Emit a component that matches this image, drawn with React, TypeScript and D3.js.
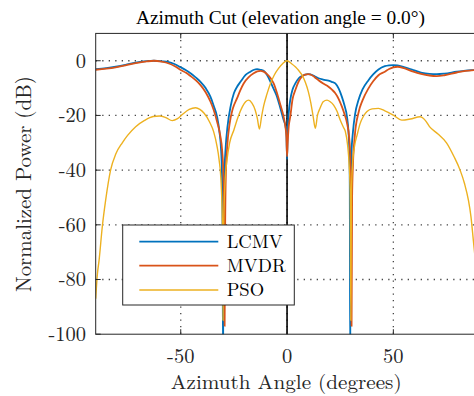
import React from "react";
import * as d3 from "d3";

// Beam pattern samples: [azimuth angle (deg), normalized power (dB)]
const lcmv: [number, number][] = [
  [-90, -3.1], [-85, -2.7], [-80.6, -2.2], [-76, -1.5], [-71.2, -0.7], [-66, -0.15], [-62.6, 0],
  [-59, -0.2], [-55.6, -0.5], [-53, -1.2], [-50, -2.4], [-47.5, -3.5], [-45.4, -4.6], [-43, -6.1],
  [-40.7, -7.7], [-38.3, -10], [-36, -13.2], [-34.5, -16.5], [-32.9, -20.5], [-31.8, -26], [-31, -33],
  [-30.6, -42], [-30.35, -60], [-30.1, -110], [-29.85, -60], [-29.5, -42], [-28.9, -32], [-28, -24],
  [-26.5, -16.5], [-25, -11.9], [-23.5, -9.5], [-21.9, -7.7], [-19.5, -5.2], [-17.2, -4], [-15.5, -3.3],
  [-14.1, -3.1], [-12.5, -3.3], [-11, -3.7], [-9.4, -5.2], [-7.8, -7.7], [-6.3, -10.3], [-4.7, -13.2],
  [-3.1, -17.5], [-1.6, -21.7], [-0.7, -24], [-0.3, -27], [0, -36], [0.3, -26], [0.8, -19], [1.5, -14.4],
  [2.6, -10.5], [3.9, -8.3], [5.5, -6.4], [7, -5.6], [8.5, -5.1], [9.6, -4.9], [11, -5.0], [12.8, -5.6],
  [14.8, -6.4], [17, -6.9], [19.5, -7.3], [21, -7.7], [22.7, -8.3], [24.3, -10.2], [25.8, -13.2],
  [27, -16.3], [28.2, -20.5], [28.9, -26], [29.3, -33], [29.5, -45], [29.7, -110], [29.95, -45],
  [30.3, -34], [31, -26], [32, -19.5], [33.6, -14.4], [35.5, -10.5], [38.3, -7.1], [40.5, -5], [43, -3.2],
  [46, -2], [48, -1.7], [50, -1.6], [52, -1.7], [55, -2.3], [59.4, -3.4], [63, -4.3], [67, -4.8],
  [70.4, -4.9], [74, -4.7], [79.8, -4], [84, -3.6], [88, -3.4], [90, -3.3],
];

const mvdr: [number, number][] = [
  [-90, -3.3], [-85, -2.9], [-80.6, -2.4], [-76, -1.7], [-71.2, -0.9], [-66, -0.25], [-62.6, 0],
  [-59, -0.35], [-55.6, -1], [-53, -1.9], [-50, -3.4], [-47.5, -4.4], [-45.4, -5.6], [-43, -7.1],
  [-40.7, -8.9], [-38.3, -11.5], [-36, -15], [-34.5, -18], [-32.9, -22.3], [-31.5, -27], [-30.5, -33],
  [-29.9, -42], [-29.6, -60], [-29.35, -97], [-29.1, -60], [-28.8, -42], [-28.2, -32], [-27, -23],
  [-25.5, -17.5], [-23.5, -13.7], [-22, -10.8], [-20.4, -8.3], [-18, -6], [-15.7, -4.6], [-14, -3.9],
  [-12.5, -3.7], [-11, -4], [-9.4, -4.9], [-7.8, -6.3], [-6.3, -8.3], [-4.7, -11.9], [-3.1, -16.2],
  [-1.6, -20.5], [-0.8, -24], [-0.3, -28], [0, -35], [0.3, -30], [0.8, -24], [1.5, -20.5], [2.6, -14],
  [3.9, -10.7], [5.5, -7.5], [7, -5.8], [8.5, -5.1], [10, -4.9], [11.5, -5.2], [13, -6], [14.8, -7.1],
  [17, -8.3], [19.5, -9.5], [21, -10.5], [22.7, -11.9], [24.3, -14], [25.8, -16.8], [27, -19.5],
  [28.2, -22.8], [29.2, -28], [29.8, -36], [30.1, -50], [30.35, -97], [30.6, -50], [31, -38],
  [31.8, -28], [33.6, -19], [35.5, -14.5], [38.3, -10.1], [40.5, -7.5], [43, -5.3], [46, -4], [48, -3],
  [50, -2.4], [52, -2.2], [55, -2.7], [59.4, -4], [63, -4.8], [67, -5.4], [70.4, -5.6], [74, -5.3],
  [79.8, -4.3], [84, -3.7], [88, -3.4], [90, -3.3],
];

const pso: [number, number][] = [
  [-90, -87], [-89.2, -78], [-88.4, -72.9], [-86.9, -60.7], [-85.3, -50.9], [-83, -40], [-80.5, -34],
  [-77.5, -30], [-75, -27.3], [-71.2, -24.1], [-67, -21.8], [-63, -20.4], [-60, -20.2], [-57, -20.8],
  [-54, -21.9], [-51.5, -21.2], [-49, -19.5], [-46, -17.8], [-43, -17.2], [-41, -17.8], [-39, -19.2],
  [-36.5, -22.3], [-34.5, -26], [-33, -31], [-32, -36], [-31, -45], [-30.4, -60], [-30.1, -95],
  [-29.8, -60], [-29.2, -45], [-28.2, -36], [-27, -30], [-25, -25.3], [-23, -20.5], [-21, -16.8],
  [-19.5, -15], [-18, -14.4], [-16.5, -15.5], [-15, -18], [-14, -21], [-13, -25], [-12, -20.5],
  [-11, -16.5], [-9.5, -12.3], [-7.8, -8.3], [-6, -5.2], [-4, -2.8], [-2, -1], [0, 0], [2, -1],
  [4, -2.3], [5.4, -3.5], [7, -5.2], [8.6, -7.9], [10, -11.3], [11.2, -15.5], [12.3, -20.5],
  [13.3, -24.7], [14.3, -20], [15.6, -17.2], [17, -15], [18.8, -14.4], [20.3, -15], [21.9, -16.2],
  [23.5, -18.5], [25, -21.7], [26.5, -24.3], [27.4, -25.8], [28.5, -31], [29.2, -38], [29.7, -48],
  [30, -95], [30.3, -48], [30.8, -38], [31.8, -31], [33, -27], [34.4, -22.9], [36, -20.2],
  [37.6, -18.6], [40, -17.6], [43, -17.4], [46, -18.3], [50, -19.9], [54, -21.7], [58, -21.3],
  [62.6, -20.5], [65, -21.8], [67, -24.1], [71, -26.8], [75, -30], [78.5, -35], [81.4, -40],
  [83.5, -45], [85.3, -51], [86.5, -57], [87.6, -65.5], [88.8, -75], [90, -87],
];

const seriesNames = ["LCMV", "MVDR", "PSO"];
const seriesColors = ["#0072BD", "#D95319", "#EDB120"];
const seriesWidths = [1.8, 1.8, 1.4];
const xTicks = [-50, 0, 50];
const yTicks = [-100, -80, -60, -40, -20, 0];

const W = 474;
const H = 396;
const left = 95.7;
const right = 478.4;
const top = 33.4;
const bottom = 334.2;
const latex: React.CSSProperties = { fontFamily: '"Latin Modern Roman"' };
const times: React.CSSProperties = { fontFamily: '"Liberation Serif"' };
const axisColor = "#262626";

export default function App() {
  const x = d3.scaleLinear().domain([-90, 90]).range([left, right]);
  const y = d3.scaleLinear().domain([-100, 10]).range([bottom, top]);
  const line = d3
    .line<[number, number]>()
    .x((d) => x(d[0]))
    .y((d) => y(d[1]))
    .curve(d3.curveMonotoneX);
  const data = [lcmv, mvdr, pso];

  const legendX = 122.7;
  const legendY = 225;
  const legendW = 171.6;
  const legendH = 80;
  const rowY = [241.7, 265.7, 290];

  return (
    <svg width={W} height={H} style={{ position: "absolute", left: 0, top: 0, background: "#fff" }}>
      <defs>
        <clipPath id="plot-area">
          <rect x={left} y={top} width={right - left} height={bottom - top} />
        </clipPath>
      </defs>
      <rect x={0} y={0} width={W} height={H} fill="#fff" />

      {/* grid */}
      <g stroke={axisColor} strokeWidth={1.3} strokeDasharray="1.3,5.2" opacity={0.85}>
        {yTicks
          .filter((t) => t > -100)
          .map((t) => (
            <line key={"gy" + t} x1={left} x2={right} y1={y(t)} y2={y(t)} />
          ))}
        {xTicks.map((t) => (
          <line key={"gx" + t} x1={x(t)} x2={x(t)} y1={top} y2={bottom} />
        ))}
      </g>

      {/* reference line at broadside */}
      <line x1={x(0)} x2={x(0)} y1={top} y2={bottom} stroke="#000" strokeWidth={1.6} />

      {/* beam patterns */}
      <g clipPath="url(#plot-area)" fill="none" strokeLinejoin="round">
        {data.map((d, i) => (
          <path key={seriesNames[i]} d={line(d) ?? ""} stroke={seriesColors[i]} strokeWidth={seriesWidths[i]} />
        ))}
      </g>

      {/* axes box and ticks */}
      <g stroke={axisColor} strokeWidth={1} fill="none">
        <rect x={left} y={top} width={right - left} height={bottom - top} />
        {xTicks.map((t) => (
          <g key={"tx" + t}>
            <line x1={x(t)} x2={x(t)} y1={bottom} y2={bottom - 5} />
            <line x1={x(t)} x2={x(t)} y1={top} y2={top + 5} />
          </g>
        ))}
        {yTicks.map((t) => (
          <line key={"ty" + t} x1={left} x2={left + 5} y1={y(t)} y2={y(t)} />
        ))}
      </g>

      {/* tick labels */}
      <g fill={axisColor}>
        {yTicks.map((t) => (
          <text key={"ly" + t} x={86} y={y(t)} dy="0.33em" textAnchor="end" fontSize={20.5} style={latex}>
            {t === 0 ? "0" : "-" + Math.abs(t)}
          </text>
        ))}
        {xTicks.map((t) => (
          <text key={"lx" + t} x={x(t)} y={362.5} textAnchor="middle" fontSize={20.5} style={latex}>
            {t === 0 ? "0" : t < 0 ? "-" + Math.abs(t) : String(t)}
          </text>
        ))}
      </g>

      {/* axis titles */}
      <text
        x={286.2}
        y={389}
        fontSize={20}
        textAnchor="middle"
        fill={axisColor}
        textLength={231}
        lengthAdjust="spacingAndGlyphs"
        style={latex}
      >
        Azimuth Angle (degrees)
      </text>
      <text
        transform={`translate(31,${184}) rotate(-90)`}
        fontSize={21}
        textAnchor="middle"
        fill={axisColor}
        textLength={216}
        lengthAdjust="spacingAndGlyphs"
        style={latex}
      >
        Normalized Power (dB)
      </text>
      <text x={280.5} y={24} fontSize={19.4} textAnchor="middle" fill="#000" style={times}>
        Azimuth Cut (elevation angle = 0.0°)
      </text>

      {/* legend */}
      <g>
        <rect x={legendX} y={legendY} width={legendW} height={legendH} fill="#fff" stroke={axisColor} strokeWidth={1} />
        {seriesNames.map((name, i) => (
          <g key={"lg" + name}>
            <line x1={139.3} x2={218.3} y1={rowY[i]} y2={rowY[i]} stroke={seriesColors[i]} strokeWidth={seriesWidths[i]} />
            <text x={226.7} y={rowY[i]} dy="0.33em" fontSize={18.6} fill="#000" style={latex}>
              {name}
            </text>
          </g>
        ))}
      </g>
    </svg>
  );
}
